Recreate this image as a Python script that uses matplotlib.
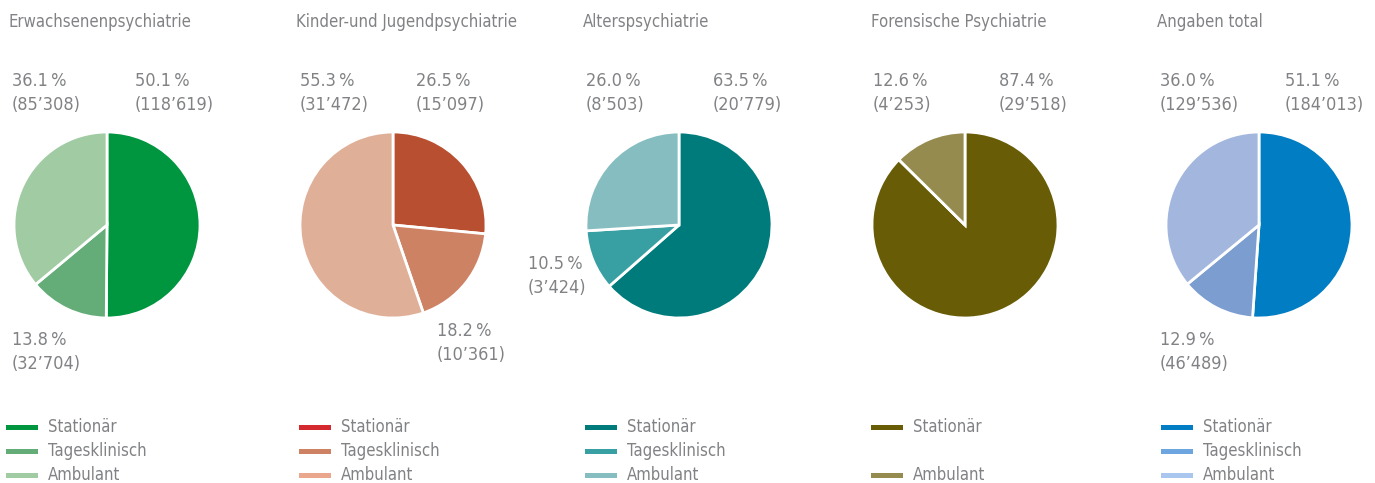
import matplotlib
matplotlib.use("Agg")
import matplotlib.pyplot as plt
from matplotlib.lines import Line2D

# Daten
titles = ["Erwachsenenpsychiatrie", "Kinder-und Jugendpsychiatrie", "Alterspsychiatrie",
          "Forensische Psychiatrie", "Angaben total"]
categories = ["Stationär", "Tagesklinisch", "Ambulant"]
stationaer = [118619, 15097, 20779, 29518, 184013]
tagesklinisch = [32704, 10361, 3424, 0, 46489]
ambulant = [85308, 31472, 8503, 4253, 129536]

# Farben (Kuchen / Legende)
wedge_colors = [
    ["#009640", "#64AD78", "#A0CBA3"],
    ["#B84F30", "#CD8264", "#E0AF97"],
    ["#007B7C", "#38A0A3", "#86BDC0"],
    ["#685D06", "#968B4F", "#968B4F"],
    ["#007DC3", "#7B9DD0", "#A3B7DE"],
]
legend_colors = [
    ["#009640", "#64AD78", "#A0CBA3"],
    ["#D42A2F", "#CD8264", "#EBA68E"],
    ["#007B7C", "#38A0A3", "#86BDC0"],
    ["#685D06", None, "#968B4F"],
    ["#007DC3", "#6CA5E0", "#A8C6EE"],
]

W, H = 1375, 483
plt.rcParams["font.family"] = ["DejaVu Sans"]
plt.rcParams["font.stretch"] = "condensed"
grey = "#808285"

fig = plt.figure(figsize=(W / 100, H / 100), dpi=100)

def fx(x):
    return x / W

def fy(y):
    return 1 - y / H

centers = [107, 393, 679, 965, 1259]
r = 93
title_x = [8, 296, 583, 871, 1157]
leg_x = [8, 301, 587, 873, 1163]
# Positionen der Beschriftungen (x, y der ersten Zeile) je Kategorie
lab_pos = [
    [(135, 81), (12, 340), (12, 81)],
    [(416, 81), (437, 331), (300, 81)],
    [(713, 81), (528, 264), (586, 81)],
    [(999, 81), None, (873, 81)],
    [(1285, 81), (1160, 340), (1160, 81)],
]

def fmt(v):
    return "(" + f"{v:,}".replace(",", "\u2019") + ")"

for i in range(5):
    vals = [stationaer[i], tagesklinisch[i], ambulant[i]]
    total = sum(vals)
    c = centers[i]
    ax = fig.add_axes([fx(c - r), fy(225 + r), fx(2 * r), (2 * r) / H])
    ax.pie(vals, colors=wedge_colors[i], startangle=90, counterclock=False,
           wedgeprops=dict(edgecolor="white", linewidth=2))
    ax.set_xlim(-1, 1)
    ax.set_ylim(-1, 1)
    ax.axis("off")

    fig.text(fx(title_x[i]), fy(22), titles[i], fontsize=12, color=grey,
             ha="left", va="center")

    for k in range(3):
        if lab_pos[i][k] is None or vals[k] == 0:
            continue
        x, y = lab_pos[i][k]
        fig.text(fx(x), fy(y), f"{vals[k] / total * 100:.1f}\u2009%", fontsize=13,
                 color=grey, ha="left", va="center")
        fig.text(fx(x), fy(y + 24), fmt(vals[k]), fontsize=13,
                 color=grey, ha="left", va="center")

    for k in range(3):
        col = legend_colors[i][k]
        if col is None:
            continue
        y = 427 + 24 * k
        fig.add_artist(Line2D([fx(leg_x[i]), fx(leg_x[i] + 27)], [fy(y), fy(y)],
                              color=col, linewidth=3.6, transform=fig.transFigure))
        fig.text(fx(leg_x[i] + 40), fy(y), categories[k], fontsize=12, color=grey,
                 ha="left", va="center")

fig.savefig("out.png", dpi=100)
